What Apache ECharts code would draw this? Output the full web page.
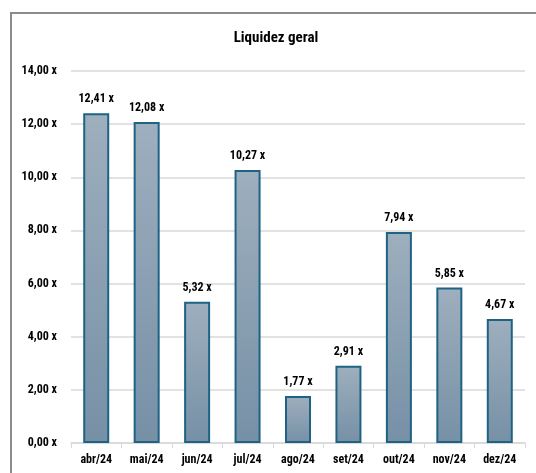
<!DOCTYPE html>
<html>
<head>
    <meta charset="UTF-8">
    <title>Liquidez geral</title>
    <script src="https://cdn.jsdelivr.net/npm/echarts@6/dist/echarts.min.js"></script>
    <style>
        html, body { margin: 0; padding: 0; background: #fff; }
        #wrap { position: relative; width: 536px; height: 473px; overflow: hidden; }
        #frame { position: absolute; left: 10px; top: 12px; width: 560px; height: 500px;
                 border: 2px solid #8c8c8c; box-sizing: border-box; }
        #chart { position: absolute; left: 0; top: 0; width: 536px; height: 473px; }
    </style>
</head>
<body>
<div id="wrap">
    <div id="frame"></div>
    <div id="chart"></div>
</div>
<script type="text/javascript">
    var months = ['abr/24', 'mai/24', 'jun/24', 'jul/24', 'ago/24', 'set/24', 'out/24', 'nov/24', 'dez/24'];
    var liquidez = [12.41, 12.08, 5.32, 10.27, 1.77, 2.91, 7.94, 5.85, 4.67];

    var font = "'Liberation Sans Narrow', 'Roboto Condensed', 'Liberation Sans', sans-serif";

    function fmt(v) {
        return v.toFixed(2).replace('.', ',') + ' x';
    }

    var chart = echarts.init(document.getElementById('chart'));
    chart.setOption({
        animation: false,
        title: {
            text: 'Liquidez geral',
            left: 271,
            top: 26,
            textAlign: 'center',
            textStyle: { fontFamily: font, fontSize: 15, fontWeight: 'bold', color: '#000' }
        },
        grid: { left: 71, right: 11, top: 71, bottom: 30 },
        xAxis: {
            type: 'category',
            data: months,
            axisLine: { lineStyle: { color: '#d9d9d9', width: 1.5 } },
            axisTick: { show: true, length: 5, lineStyle: { color: '#d9d9d9' } },
            axisLabel: { margin: 11, color: '#000', fontFamily: font, fontSize: 12, fontWeight: 'bold' }
        },
        yAxis: {
            type: 'value',
            min: 0,
            max: 14,
            interval: 2,
            axisLine: { show: false },
            axisTick: { show: false },
            splitLine: { lineStyle: { color: '#d9d9d9', width: 1.5 } },
            axisLabel: {
                margin: 14, color: '#000', fontFamily: font, fontSize: 12, fontWeight: 'bold',
                formatter: function (v) { return fmt(v); }
            }
        },
        series: [{
            type: 'bar',
            data: liquidez,
            barWidth: 26,
            itemStyle: {
                color: new echarts.graphic.LinearGradient(0, 0, 0, 1, [
                    { offset: 0, color: '#9eafbe' },
                    { offset: 1, color: '#7690a6' }
                ]),
                borderColor: '#1e6384',
                borderWidth: 2
            },
            label: {
                show: true,
                position: 'top',
                distance: 8,
                color: '#000',
                fontFamily: font,
                fontSize: 12,
                fontWeight: 'bold',
                formatter: function (p) { return fmt(p.value); }
            }
        }]
    });
</script>
</body>
</html>
